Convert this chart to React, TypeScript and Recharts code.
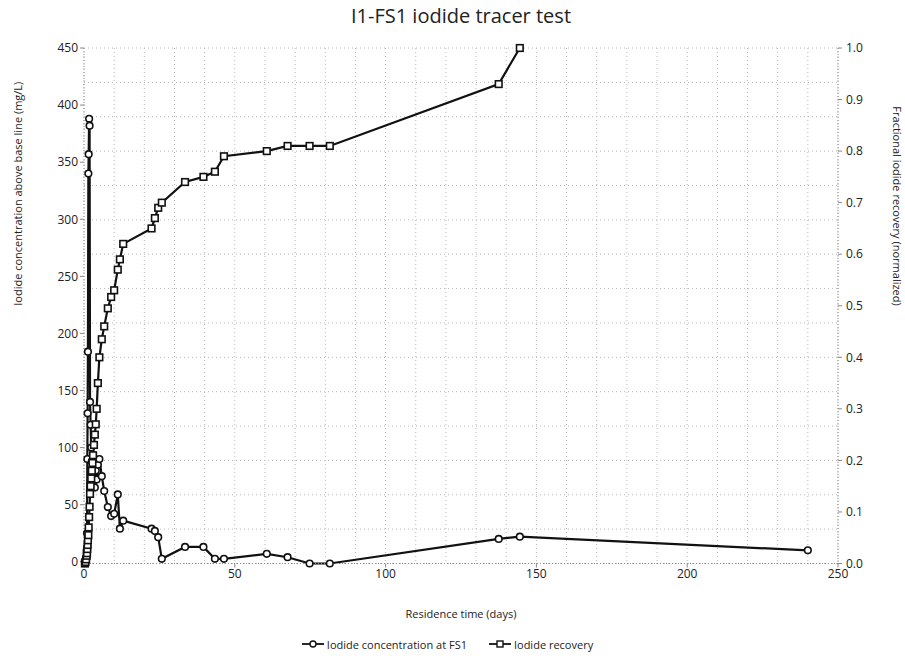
import React from "react";
import { LineChart, Line, XAxis, YAxis, CartesianGrid, Legend } from "recharts";

// Sampling times (days) shared by both series
const days = [
  0.3, 0.5, 0.7, 0.9, 1.0, 1.1, 1.2, 1.3, 1.45, 1.55, 1.7, 1.85, 2.0, 2.2, 2.4, 2.6, 2.8, 3.0, 3.3, 3.6,
  3.9, 4.2, 4.6, 5.1, 5.9, 6.7, 7.9, 9.0, 10.0, 11.2, 11.9, 13.0, 22.4, 23.5, 24.6, 25.8, 33.5, 39.6,
  43.4, 46.4, 60.6, 67.5, 74.8, 81.5, 137.5, 144.5, 240,
];

// Iodide concentration above base line (mg/L)
const concentration = [
  0, 1, 3, 10, 25, 90, 130, 184, 340, 357, 388, 382, 140, 120, 100, 88, 75, 70, 85, 65,
  80, 72, 85, 90, 75, 62, 48, 40, 42, 59, 29, 36, 29, 27, 21.6, 2.6, 13, 13,
  2.6, 2.6, 7, 4, -1.5, -1.5, 20, 22, 10,
];

// Fractional iodide recovery (normalized)
const recovery: (number | null)[] = [
  0, 0.003, 0.008, 0.015, 0.02, 0.028, 0.036, 0.045, 0.055, 0.07, 0.09, 0.11, 0.135, 0.15, 0.165, 0.18, 0.195, 0.21, 0.23, 0.25,
  0.27, 0.3, 0.35, 0.4, 0.435, 0.46, 0.495, 0.517, 0.53, 0.57, 0.59, 0.62, 0.65, 0.67, 0.69, 0.7, 0.74, 0.75,
  0.76, 0.79, 0.8, 0.81, 0.81, 0.81, 0.93, 1.0, null,
];

const xTicks = [0, 50, 100, 150, 200, 250];
const yLeftTicks = [0, 50, 100, 150, 200, 250, 300, 350, 400, 450];
const yRightTicks = [0, 0.1, 0.2, 0.3, 0.4, 0.5, 0.6, 0.7, 0.8, 0.9, 1.0];
const gridX = Array.from({ length: 26 }, (_, i) => i * 10);
const gridY = Array.from({ length: 46 }, (_, i) => i * 10);

const rows = days.map((d, i) => ({ day: d, conc: concentration[i], rec: recovery[i] }));

const font = "'Open Sans', 'DejaVu Sans', sans-serif";

const CircleDot = (props: any) => {
  const { cx, cy, index } = props;
  if (cx == null || cy == null) return null;
  return <circle key={`c${index}`} cx={cx} cy={cy} r={3.3} fill="#fff" stroke="#111" strokeWidth={1.6} />;
};

const SquareDot = (props: any) => {
  const { cx, cy, index, value } = props;
  if (cx == null || cy == null || value == null) return <g key={`s${index}`} />;
  return <rect key={`s${index}`} x={cx - 3.3} y={cy - 3.3} width={6.6} height={6.6} fill="#fff" stroke="#111" strokeWidth={1.6} />;
};

function LegendContent() {
  const item = (label: string, square: boolean) => (
    <span style={{ display: "inline-flex", alignItems: "center", marginRight: 22 }}>
      <svg width={22} height={10} style={{ marginRight: 3 }}>
        <line x1={0} y1={5} x2={22} y2={5} stroke="#111" strokeWidth={1.8} />
        {square ? (
          <rect x={8} y={2} width={6} height={6} fill="#fff" stroke="#111" strokeWidth={1.4} />
        ) : (
          <circle cx={11} cy={5} r={3} fill="#fff" stroke="#111" strokeWidth={1.4} />
        )}
      </svg>
      {label}
    </span>
  );
  return (
    <div style={{ textAlign: "center", fontFamily: font, fontSize: 11, color: "#222", paddingLeft: 10 }}>
      {item("Iodide concentration at FS1", false)}
      {item("Iodide recovery", true)}
    </div>
  );
}

export default function App() {
  return (
    <div style={{ position: "absolute", left: 0, top: 0, width: 905, height: 658, background: "#fff", fontFamily: font }}>
      <div style={{ position: "absolute", top: 2, left: 0, width: 922, textAlign: "center", fontSize: 20, color: "#222" }}>
        I1-FS1 iodide tracer test
      </div>
      <LineChart width={905} height={658} data={rows} margin={{ top: 48, right: 22, bottom: 49, left: 24 }}>
        <CartesianGrid stroke="#b8b8b8" strokeDasharray="1 3" xAxisId="grid" yAxisId="grid" />
        <XAxis
          dataKey="day"
          type="number"
          domain={[0, 250]}
          ticks={xTicks}
          height={30}
          axisLine={{ stroke: "#888", strokeDasharray: "1 2" }}
          tickLine={{ stroke: "#888" }}
          tickSize={4}
          tick={{ fontSize: 12, fill: "#222", fontFamily: font }}
          label={{ value: "Residence time (days)", position: "insideBottom", offset: -24, fontSize: 11, fill: "#222", fontFamily: font }}
        />
        <YAxis
          yAxisId="left"
          domain={[0, 450]}
          ticks={yLeftTicks}
          width={60}
          axisLine={{ stroke: "#888", strokeDasharray: "1 2" }}
          tickLine={{ stroke: "#888" }}
          tickSize={4}
          tick={{ fontSize: 12, fill: "#222", fontFamily: font }}
          label={{ value: "Iodide concentration above base line (mg/L)", angle: -90, position: "insideLeft", offset: -6, fontSize: 11, fill: "#222", fontFamily: font }}
        />
        <YAxis
          yAxisId="right"
          orientation="right"
          domain={[0, 1]}
          ticks={yRightTicks}
          width={45}
          axisLine={{ stroke: "#888", strokeDasharray: "1 2" }}
          tickLine={{ stroke: "#888" }}
          tickSize={4}
          tickFormatter={(v: number) => v.toFixed(1)}
          tick={{ fontSize: 12, fill: "#222", fontFamily: font, dx: 2 }}
          label={{ value: "Fractional iodide recovery (normalized)", angle: 90, position: "insideRight", offset: -14, fontSize: 11, fill: "#222", fontFamily: font }}
        />
        <XAxis xAxisId="grid" dataKey="day" type="number" domain={[0, 250]} ticks={gridX} height={0} allowDataOverflow hide />
        <YAxis yAxisId="grid" dataKey="conc" orientation="right" domain={[0, 450]} ticks={gridY} width={0} allowDataOverflow hide />
        <Legend verticalAlign="bottom" wrapperStyle={{ bottom: 6 }} content={<LegendContent />} />
        <Line
          yAxisId="left"
          dataKey="conc"
          name="Iodide concentration at FS1"
          stroke="#111"
          strokeWidth={2.2}
          dot={CircleDot}
          isAnimationActive={false}
        />
        <Line
          yAxisId="right"
          dataKey="rec"
          name="Iodide recovery"
          stroke="#111"
          strokeWidth={2.2}
          dot={SquareDot}
          isAnimationActive={false}
        />
      </LineChart>
    </div>
  );
}
